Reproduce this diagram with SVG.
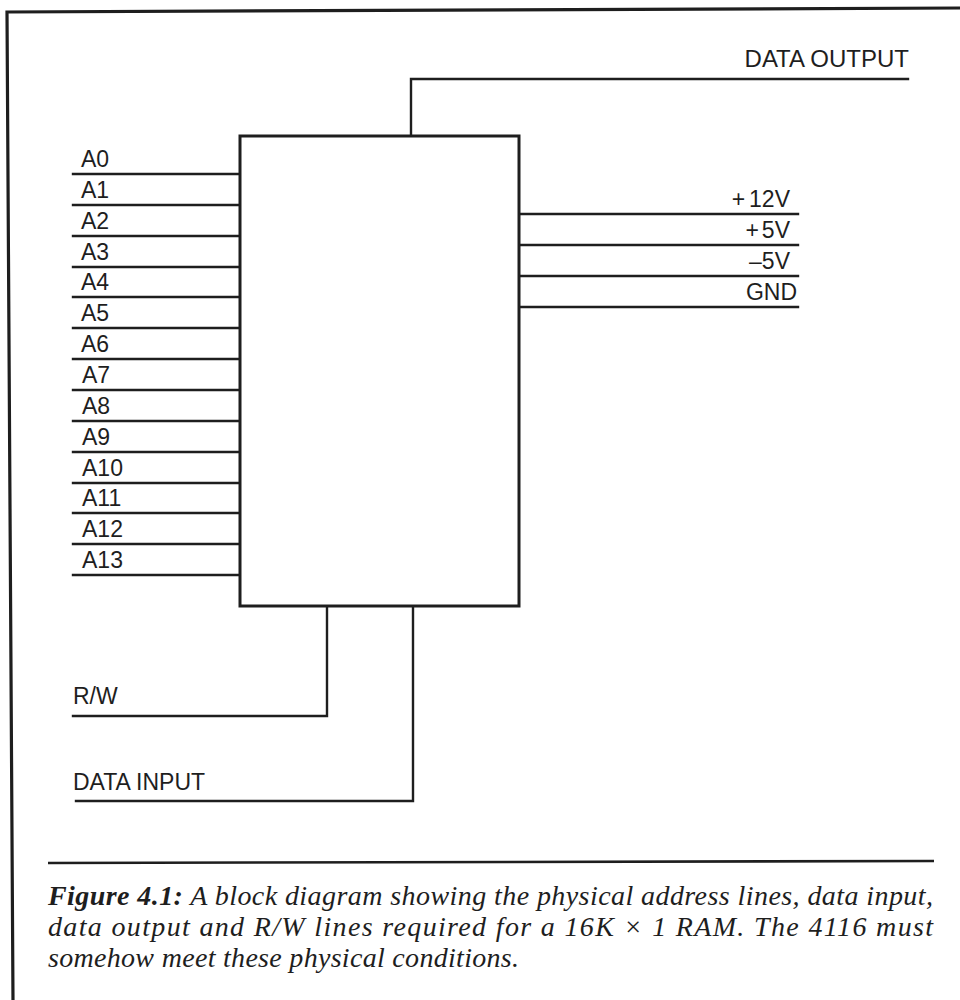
<svg xmlns="http://www.w3.org/2000/svg" width="960" height="1000" viewBox="0 0 960 1000">
<style>
.ln{fill:none;stroke:#1e1e1e;stroke-width:2.4;stroke-linecap:square}
.box{fill:#fff;stroke:#1e1e1e;stroke-width:3}
.lbl{font-family:"Liberation Sans",Arial,sans-serif;font-size:23px;fill:#1e1e1e}
.big{font-size:24px}
.cap{font-family:"Liberation Serif","Times New Roman",serif;font-size:28px;font-style:italic;fill:#1e1e1e}
</style>
<rect width="960" height="1000" fill="#fff"/>
<g id="frame">
<path d="M13 1000 L7 12 L960 8" fill="none" stroke="#1e1e1e" stroke-width="3.2"/>
</g>
<g id="connectors">
<path class="ln" d="M411 136 V79 H908"/>
<path class="ln" d="M73 174 H240"/>
<path class="ln" d="M73 205 H240"/>
<path class="ln" d="M73 236 H240"/>
<path class="ln" d="M73 267 H240"/>
<path class="ln" d="M73 297 H240"/>
<path class="ln" d="M73 328 H240"/>
<path class="ln" d="M73 359 H240"/>
<path class="ln" d="M73 390 H240"/>
<path class="ln" d="M73 421 H240"/>
<path class="ln" d="M73 452 H240"/>
<path class="ln" d="M73 483 H240"/>
<path class="ln" d="M73 513 H240"/>
<path class="ln" d="M73 544 H240"/>
<path class="ln" d="M73 575 H240"/>
<path class="ln" d="M519 214 H798"/>
<path class="ln" d="M519 245 H798"/>
<path class="ln" d="M519 276 H798"/>
<path class="ln" d="M519 307 H798"/>
<path class="ln" d="M327 606 V716 H73"/>
<path class="ln" d="M413 606 V801 H76"/>
</g>
<g id="ram-chip">
<rect class="box" x="240" y="136" width="279" height="470"/>
</g>
<g id="data-output"><text class="lbl big" x="909" y="67" text-anchor="end">DATA OUTPUT</text></g>
<g id="address-lines">
<text class="lbl" x="81" y="167">A0</text>
<text class="lbl" x="81" y="198">A1</text>
<text class="lbl" x="81" y="229">A2</text>
<text class="lbl" x="81" y="260">A3</text>
<text class="lbl" x="81" y="290">A4</text>
<text class="lbl" x="81" y="321">A5</text>
<text class="lbl" x="81" y="352">A6</text>
<text class="lbl" x="82" y="383">A7</text>
<text class="lbl" x="82" y="414">A8</text>
<text class="lbl" x="82" y="445">A9</text>
<text class="lbl" x="82" y="476">A10</text>
<text class="lbl" x="82" y="506">A11</text>
<text class="lbl" x="82" y="537">A12</text>
<text class="lbl" x="82" y="568">A13</text>
</g>
<g id="power-lines">
<text class="lbl" x="790" y="207" text-anchor="end">+<tspan dx="4">12V</tspan></text>
<text class="lbl" x="790" y="238" text-anchor="end">+<tspan dx="3">5V</tspan></text>
<text class="lbl" x="790" y="269" text-anchor="end">–5V</text>
<text class="lbl" x="797" y="300" text-anchor="end">GND</text>
</g>
<g id="rw"><text class="lbl" x="73" y="704">R/W</text></g>
<g id="data-input"><text class="lbl" x="73" y="790">DATA INPUT</text></g>
<g id="caption">
<line x1="48" y1="863" x2="934" y2="861" stroke="#1e1e1e" stroke-width="2.6"/>
<text class="cap" x="48" y="905" textLength="885" lengthAdjust="spacing"><tspan font-weight="bold">Figure 4.1:</tspan> A block diagram showing the physical address lines, data input,</text>
<text class="cap" x="48" y="936" textLength="885" lengthAdjust="spacing">data output and R/W lines required for a 16K × 1 RAM. The 4116 must</text>
<text class="cap" x="48" y="967" textLength="471" lengthAdjust="spacing">somehow meet these physical conditions.</text>
</g>
</svg>
